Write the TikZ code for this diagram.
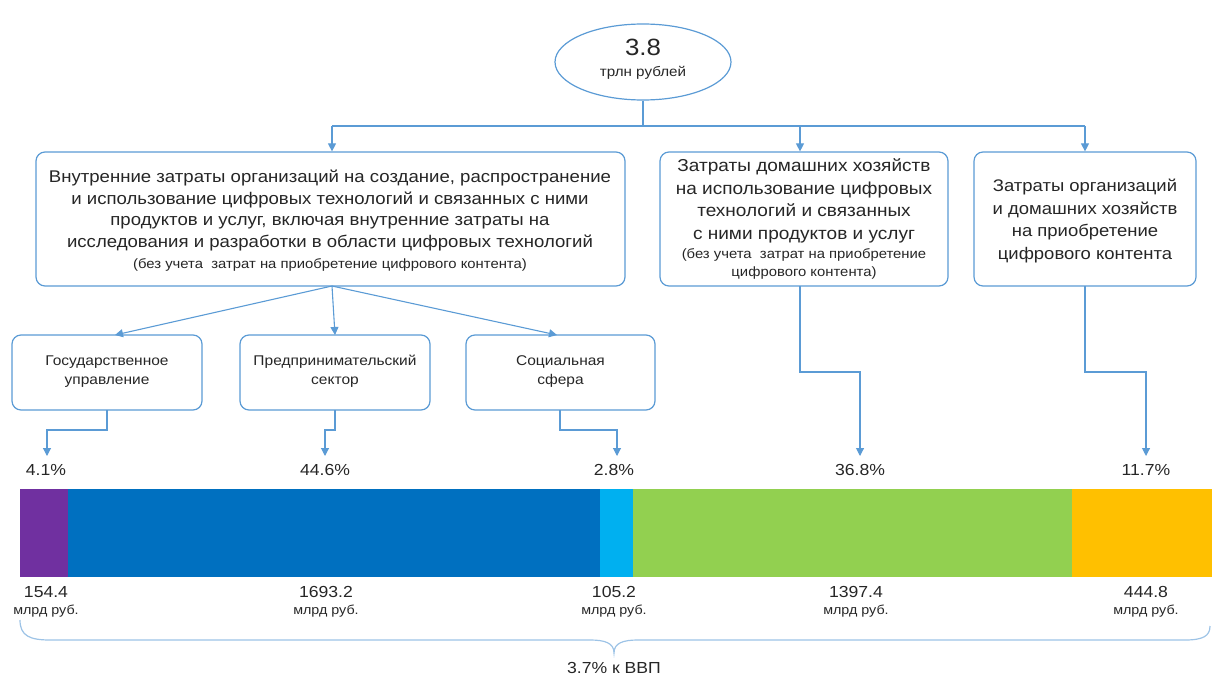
\documentclass[tikz,border=0pt]{standalone}
\usepackage{fontspec}
\setmainfont{Liberation Sans}[FakeStretch=1.1]
\usetikzlibrary{shapes.geometric,arrows.meta}
\definecolor{lnc}{HTML}{5B9BD5}
\definecolor{brc}{HTML}{9DC3E6}
\definecolor{txtc}{HTML}{262626}
\definecolor{cpur}{HTML}{7030A0}
\definecolor{cblu}{HTML}{0070C0}
\definecolor{clbl}{HTML}{00B0F0}
\definecolor{cgrn}{HTML}{92D050}
\definecolor{corg}{HTML}{FFC000}
\begin{document}
\begin{tikzpicture}[x=1pt,y=-1pt,
  box/.style={draw=lnc, line width=1.2pt, rounded corners=9pt, inner sep=0pt, fill=white},
  conn/.style={draw=lnc, line width=1.1pt, -{Triangle[width=8pt,length=8pt]}},
  plain/.style={draw=lnc, line width=1.1pt},
  txt/.style={text=txtc, align=center, inner sep=0pt},
  bigt/.style={txt, font=\fontsize{16.9}{21.8}\selectfont},
  smallt/.style={txt, font=\fontsize{13.5}{18}\selectfont},
  subt/.style={txt, font=\fontsize{14.1}{19}\selectfont},
  pct/.style={txt, font=\fontsize{16}{18}\selectfont},
  valt/.style={txt, font=\fontsize{16}{18}\selectfont},
  unit/.style={txt, font=\fontsize{13}{14}\selectfont},
  seg/.style={draw=none, inner sep=0pt, minimum height=88pt, anchor=north west}
]
\useasboundingbox (0,0) rectangle (1212,677);

% top ellipse
\node[ellipse, draw=lnc, line width=1.2pt, minimum width=176pt, minimum height=76pt, inner sep=0pt] (top) at (643,62) {};
\node[txt, font=\fontsize{23.5}{25}\selectfont] (topv) at (643,47) {3.8};
\node[txt, font=\fontsize{13.8}{15}\selectfont] (topu) at (643,73) {трлн рублей};

% level 1 boxes
\node[box, minimum width=589pt, minimum height=134pt] (b1) at (330.5,219) {};
\node[box, minimum width=288pt, minimum height=134pt] (b2) at (804,219) {};
\node[box, minimum width=222pt, minimum height=134pt] (b3) at (1085,219) {};

\node[bigt] (t1) at (330,210.5) {Внутренние затраты организаций на создание, распространение\\и использование цифровых технологий и связанных с ними\\продуктов и услуг, включая внутренние затраты на\\исследования и разработки в области цифровых технологий};
\node[smallt] (t1s) at (330,265) {(без учета \ затрат на приобретение цифрового контента)};

\node[bigt, font=\fontsize{17.3}{22.6}\selectfont] (t2) at (804,201) {Затраты домашних хозяйств\\на использование цифровых\\технологий и связанных\\с ними продуктов и услуг};
\node[smallt] (t2s) at (804,264) {(без учета \ затрат на приобретение\\цифрового контента)};

\node[bigt, font=\fontsize{16.8}{22.4}\selectfont] (t3) at (1085,221) {Затраты организаций\\и домашних хозяйств\\на приобретение\\цифрового контента};

% connectors from top
\coordinate (j0) at (643,126);
\coordinate (jl) at (332,126);
\coordinate (jm) at (800,126);
\coordinate (jr) at (1085,126);
\draw[plain] (top.south) -- (j0);
\draw[plain] (jl) -- (jr);
\draw[conn] (jl) -- (jl |- b1.north);
\draw[conn] (jm) -- (jm |- b2.north);
\draw[conn] (jr) -- (b3.north);

% sub boxes
\node[box, minimum width=190pt, minimum height=75pt] (gov) at (107,372.5) {};
\node[box, minimum width=190pt, minimum height=75pt] (pred) at (335,372.5) {};
\node[box, minimum width=189pt, minimum height=75pt] (soc) at (560.5,372.5) {};
\node[subt] (govt) at (107,371.5) {Государственное\\управление};
\node[subt] (predt) at (335,371.5) {Предпринимательский\\сектор};
\node[subt] (soct) at (560.5,371.5) {Социальная\\сфера};

\coordinate (b1b) at (332,286);
\draw[conn] (b1b) -- (115,335);
\draw[conn] (b1b) -- (335,335);
\draw[conn] (b1b) -- (557,335);

% percent labels
\node[pct] (p1) at (46,470) {4.1\%};
\node[pct] (p2) at (325,470) {44.6\%};
\node[pct] (p3) at (614,470) {2.8\%};
\node[pct] (p4) at (860,470) {36.8\%};
\node[pct] (p5) at (1146,470) {11.7\%};

% elbow connectors
\draw[conn] (107,410) |- (47,430) -- (47,456);
\draw[conn] (335,410) |- (325,430) -- (325,456);
\draw[conn] (560,410) |- (617,430) -- (617,456);
\draw[conn] (800,286) |- (860,372) -- (860,456);
\draw[conn] (1085,286) |- (1146,372) -- (1146,456);

% bar
\node[seg, fill=cpur, minimum width=48pt] (s1) at (20,489) {};
\node[seg, fill=cblu, minimum width=532pt] (s2) at (68,489) {};
\node[seg, fill=clbl, minimum width=33pt] (s3) at (600,489) {};
\node[seg, fill=cgrn, minimum width=439pt] (s4) at (633,489) {};
\node[seg, fill=corg, minimum width=140pt] (s5) at (1072,489) {};

% values
\node[valt] (v1) at (46,592) {154.4};
\node[unit] (u1) at (46,611) {млрд руб.};
\node[valt] (v2) at (326,592) {1693.2};
\node[unit] (u2) at (326,611) {млрд руб.};
\node[valt] (v3) at (614,592) {105.2};
\node[unit] (u3) at (614,611) {млрд руб.};
\node[valt] (v4) at (856,592) {1397.4};
\node[unit] (u4) at (856,611) {млрд руб.};
\node[valt] (v5) at (1146,592) {444.8};
\node[unit] (u5) at (1146,611) {млрд руб.};

% brace
\draw[brc, line width=1.2pt] (20,620) .. controls (20,636) and (30,640) .. (50,640) -- (590,640) .. controls (605,640) and (614,643) .. (614,653) .. controls (614,643) and (623,640) .. (638,640) -- (1185,640) .. controls (1203,640) and (1210,636) .. (1210,626);
\node[txt, font=\fontsize{16}{18}\selectfont] (gdp) at (614,668) {3.7\% к ВВП};
\end{tikzpicture}
\end{document}
